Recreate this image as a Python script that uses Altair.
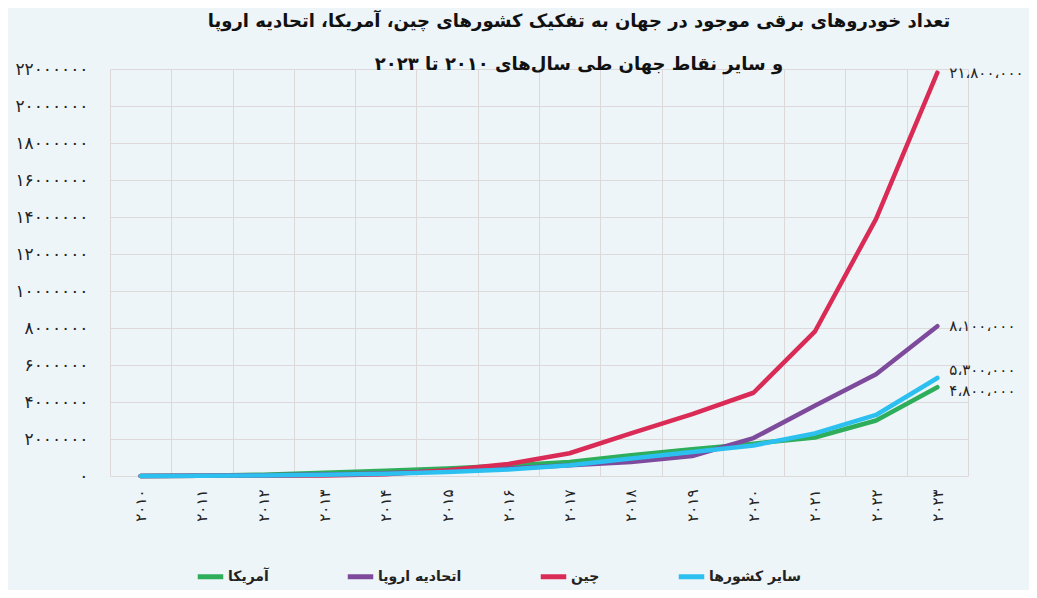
import altair as alt
import pandas as pd

# ---- data ----
year_labels = ["۲۰۱۰", "۲۰۱۱", "۲۰۱۲", "۲۰۱۳", "۲۰۱۴", "۲۰۱۵", "۲۰۱۶",
               "۲۰۱۷", "۲۰۱۸", "۲۰۱۹", "۲۰۲۰", "۲۰۲۱", "۲۰۲۲", "۲۰۲۳"]

series_names = ["آمریکا", "اتحادیه اروپا", "چین", "سایر کشورها"]
series_colors = ["#2EAE5B", "#7E4A9C", "#DA2B57", "#2BC0EF"]

usa = [4000, 20000, 70000, 170000, 290000, 400000, 570000,
       760000, 1120000, 1450000, 1750000, 2080000, 3000000, 4800000]
europe = [1000, 10000, 40000, 80000, 150000, 270000, 400000,
          580000, 750000, 1080000, 2050000, 3800000, 5500000, 8100000]
china = [2000, 7000, 17000, 30000, 100000, 310000, 650000,
         1230000, 2310000, 3350000, 4500000, 7800000, 13900000, 21800000]
others = [3000, 10000, 30000, 70000, 120000, 220000, 350000,
          580000, 950000, 1300000, 1650000, 2300000, 3300000, 5300000]

end_labels = ["۴،۸۰۰،۰۰۰", "۸،۱۰۰،۰۰۰", "۲۱،۸۰۰،۰۰۰", "۵،۳۰۰،۰۰۰"]

ytick_values = [0, 2000000, 4000000, 6000000, 8000000, 10000000, 12000000,
                14000000, 16000000, 18000000, 20000000, 22000000]
ytick_labels = ["۰", "۲۰۰۰۰۰۰", "۴۰۰۰۰۰۰", "۶۰۰۰۰۰۰", "۸۰۰۰۰۰۰", "۱۰۰۰۰۰۰۰",
                "۱۲۰۰۰۰۰۰", "۱۴۰۰۰۰۰۰", "۱۶۰۰۰۰۰۰", "۱۸۰۰۰۰۰۰", "۲۰۰۰۰۰۰۰", "۲۲۰۰۰۰۰۰"]

title_line1 = "تعداد خودروهای برقی موجود در جهان به تفکیک کشورهای چین، آمریکا، اتحادیه اروپا"
title_line2 = "و سایر نقاط جهان طی سال‌های ۲۰۱۰ تا ۲۰۲۳"

# ---- build table ----
rows = []
for name, vals in zip(series_names, [usa, europe, china, others]):
    for yl, v in zip(year_labels, vals):
        rows.append({"year": yl, "series": name, "value": v})
df = pd.DataFrame(rows)

end_df = pd.DataFrame({
    "year": [year_labels[-1]] * 4,
    "series": series_names,
    "value": [usa[-1], europe[-1], china[-1], others[-1]],
    "label": end_labels,
})

FONT = "DejaVu Sans"

label_expr = " : ".join(
    f"datum.value == {v} ? '{l}'" for v, l in zip(ytick_values, ytick_labels)
) + " : ''"

x_enc = alt.X(
    "year:N", sort=year_labels, bandPosition=0.5,
    scale=alt.Scale(type="band", paddingInner=0, paddingOuter=0),
    axis=alt.Axis(title=None, tickBand="extent", grid=True, gridColor="#DDD8DA",
                  domain=False, ticks=False, labelAngle=-90, labelPadding=13,
                  labelFontSize=15, labelColor="#222222", labelFont=FONT,
                  labelOverlap=False),
)
y_enc = alt.Y(
    "value:Q",
    scale=alt.Scale(domain=[0, 22000000], nice=False),
    axis=alt.Axis(title=None, values=ytick_values, labelExpr=label_expr,
                  grid=True, gridColor="#DDD8DA", domain=False, ticks=False,
                  labelPadding=22, labelFontSize=17, labelColor="#222222",
                  labelFont=FONT, labelOverlap=False, labelBound=False,
                  labelSeparation=0),
)
color_enc = alt.Color(
    "series:N",
    scale=alt.Scale(domain=series_names, range=series_colors),
    legend=alt.Legend(title=None, orient="none", direction="horizontal",
                      legendX=85, legendY=492, symbolType="stroke",
                      symbolStrokeWidth=5, symbolSize=650, columnPadding=68,
                      labelFontSize=14, labelFontWeight="bold",
                      labelFont=FONT, labelColor="#222222", labelOffset=2),
)

lines = alt.Chart(df).mark_line(strokeWidth=4.5, strokeCap="round",
                                strokeJoin="round").encode(
    x=x_enc, y=y_enc, color=color_enc
)

def end_text(name, dy):
    return alt.Chart(end_df).transform_filter(
        alt.datum.series == name
    ).mark_text(align="left", baseline="middle", dx=12, dy=dy, fontSize=15,
                font=FONT, color="#222222").encode(
        x=x_enc, y=y_enc, text="label:N"
    )

texts = [end_text(series_names[0], 4), end_text(series_names[1], 0),
         end_text(series_names[2], 0), end_text(series_names[3], -8)]

chart = alt.layer(lines, *texts).properties(
    width=858, height=407,
    autosize=alt.AutoSizeParams(type="none"),
    padding={"left": 102, "top": 61, "right": 61, "bottom": 114},
    background="#EDF5F8",
    title=alt.TitleParams(
        text=title_line1, subtitle=title_line2, frame="group", anchor="middle",
        dx=40, offset=-14, subtitlePadding=25, font=FONT, subtitleFont=FONT,
        fontSize=18, subtitleFontSize=18, fontWeight="bold",
        subtitleFontWeight="bold", color="#111111", subtitleColor="#111111",
    ),
).configure_view(stroke=None).configure_axis(labelOverlap=False)

chart.save("out.html", embed_options={"renderer": "svg", "actions": False})
